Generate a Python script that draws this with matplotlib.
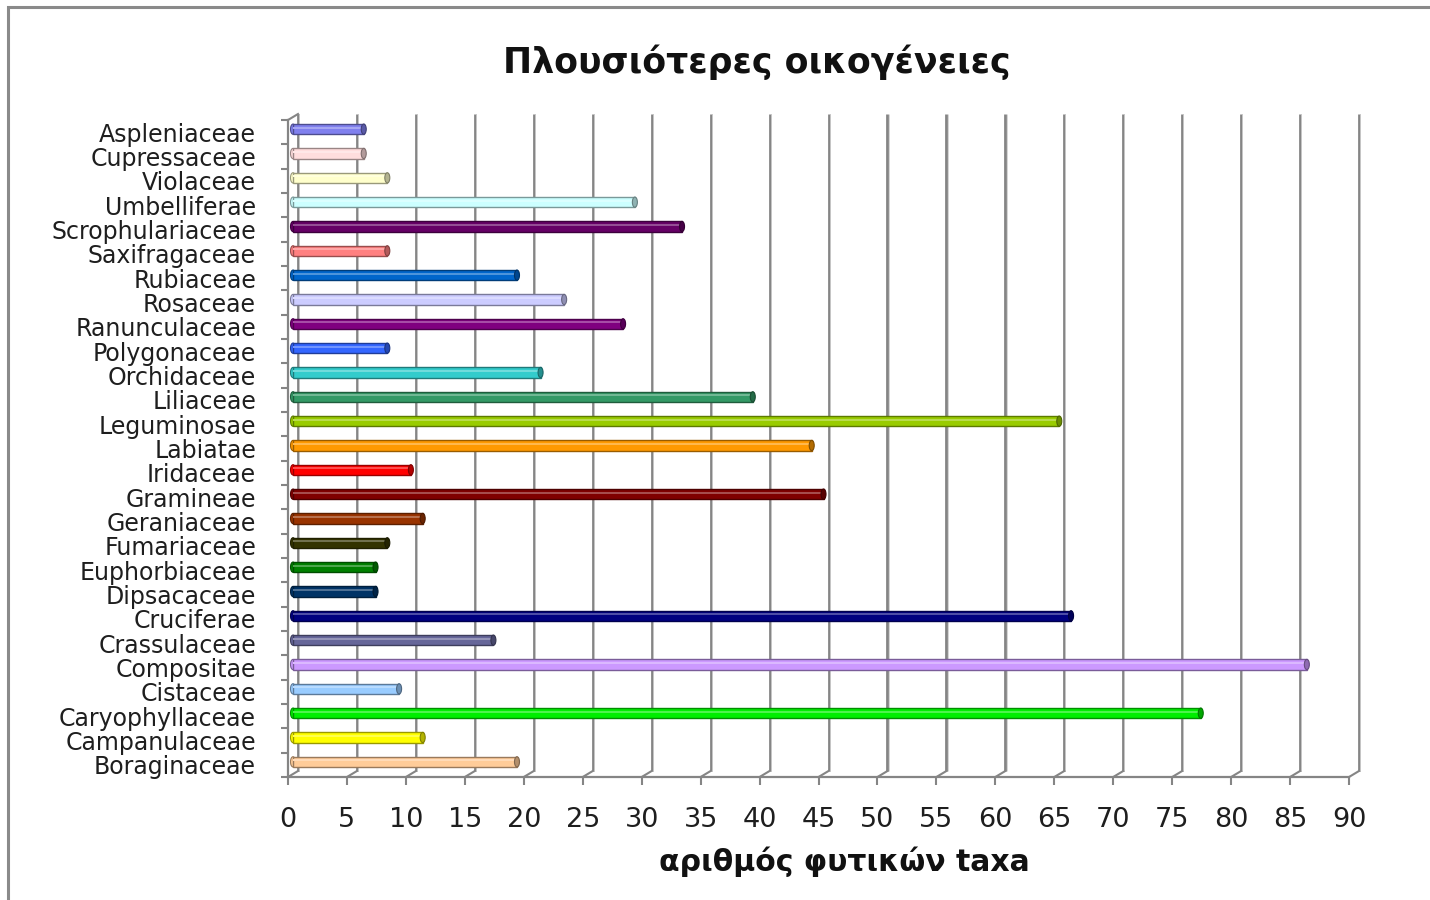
import numpy as np
import matplotlib
matplotlib.use("Agg")
import matplotlib.pyplot as plt
import matplotlib.colors as mcolors
from matplotlib.patches import Ellipse, Rectangle

# families, bottom to top
families = ["Boraginaceae", "Campanulaceae", "Caryophyllaceae", "Cistaceae",
            "Compositae", "Crassulaceae", "Cruciferae", "Dipsacaceae",
            "Euphorbiaceae", "Fumariaceae", "Geraniaceae", "Gramineae",
            "Iridaceae", "Labiatae", "Leguminosae", "Liliaceae", "Orchidaceae",
            "Polygonaceae", "Ranunculaceae", "Rosaceae", "Rubiaceae",
            "Saxifragaceae", "Scrophulariaceae", "Umbelliferae", "Violaceae",
            "Cupressaceae", "Aspleniaceae"]
taxa = [19, 11, 77, 9, 86, 17, 66, 7, 7, 8, 11, 45, 10, 44, 65, 39, 21, 8,
        28, 23, 19, 8, 33, 29, 8, 6, 6]
bar_colors = ["#ffcc99", "#ffff00", "#00ee00", "#99ccff", "#cc99ff", "#666699",
              "#000080", "#003366", "#008000", "#333300", "#993300", "#800000",
              "#ff0000", "#ff9900", "#99cc00", "#339966", "#33cccc", "#3366ff",
              "#800080", "#ccccff", "#0066cc", "#ff8080", "#660066", "#ccffff",
              "#ffffcc", "#ffdddd", "#8080ee"]
x_ticks = list(range(0, 95, 5))

W, H = 1430, 900
fig = plt.figure(figsize=(W / 100, H / 100), dpi=100)
fig.patch.set_facecolor("white")

# front plane of the chart box, in pixels
left_px, right_px, bottom_px, top_px = 288, 1349, 777, 120
ax = fig.add_axes([left_px / W, 1 - bottom_px / H,
                   (right_px - left_px) / W, (bottom_px - top_px) / H])
ax.set_xlim(0, 90)
ax.set_ylim(-0.5, len(families) - 0.5)

# depth of the 3D box (pixels -> data units)
px_x = (right_px - left_px) / 90.0
px_y = (bottom_px - top_px) / len(families)
dxu = 10 / px_x
dyu = 6 / px_y
y0, y1 = -0.5, len(families) - 0.5

grid_c = "#858585"
# back wall gridlines
ax.vlines(np.array(x_ticks) + dxu, y0 + dyu, y1 + dyu, colors=grid_c,
          linewidth=2.0, clip_on=False, zorder=1)
ax.vlines(np.array(x_ticks) + dxu + 0.1, y0 + dyu, y1 + dyu, colors="#cfcfcf",
          linewidth=0.6, clip_on=False, zorder=1)
# floor depth lines
for xt in x_ticks:
    ax.plot([xt, xt + dxu], [y0, y0 + dyu], color=grid_c, lw=1.5,
            clip_on=False, zorder=1)
ax.plot([0, dxu], [y1, y1 + dyu], color=grid_c, lw=1.5, clip_on=False, zorder=1)


def shade(c, f):
    r, g, b = mcolors.to_rgb(c)
    if f < 1:
        return (r * f, g * f, b * f)
    k = f - 1
    return (r + (1 - r) * k, g + (1 - g) * k, b + (1 - b) * k)


ypos = np.arange(len(families))
h = 0.42
yb = ypos + dyu / 2
ax.barh(yb, taxa, left=dxu / 2, height=h, color=bar_colors,
        edgecolor=[shade(c, 0.6) for c in bar_colors], linewidth=1.0, zorder=3)
# highlight along the upper side of each cylinder
ax.barh(yb + h * 0.15, taxa, left=dxu / 2, height=h * 0.2,
        color=[shade(c, 1.3) for c in bar_colors], linewidth=0, zorder=4)
# end caps
cap_w = 5 / px_x
for y, v, c in zip(yb, taxa, bar_colors):
    ax.add_patch(Ellipse((dxu / 2 + v, y), cap_w, h, facecolor=shade(c, 0.7),
                         edgecolor=shade(c, 0.5), linewidth=0.8, zorder=5))
    ax.add_patch(Ellipse((dxu / 2, y), cap_w, h, facecolor=c,
                         edgecolor=shade(c, 0.6), linewidth=0.8, zorder=2))

# axes
for s in ["top", "right"]:
    ax.spines[s].set_visible(False)
for s in ["left", "bottom"]:
    ax.spines[s].set_color(grid_c)
    ax.spines[s].set_linewidth(1.6)
ax.set_facecolor("none")

ax.set_xticks(x_ticks)
ax.set_xticklabels([str(t) for t in x_ticks])
ax.tick_params(axis="x", direction="out", length=5.5, width=1.5, color=grid_c,
               pad=16, labelsize=19.5, labelcolor="#1e1e1e")

ax.set_yticks(ypos)
ax.set_yticklabels(families)
ax.set_yticks(np.arange(-0.5, len(families)), minor=True)
ax.tick_params(axis="y", which="major", length=0, pad=23, labelsize=17,
               labelcolor="#1e1e1e")
ax.tick_params(axis="y", which="minor", direction="out", length=5, width=1.5,
               color=grid_c)

fig.text(757 / W, 1 - 62 / H, "Πλουσιότερες οικογένειες", ha="center",
         va="center", fontsize=25, fontweight="bold", color="#111111")
fig.text(844 / W, 1 - 862 / H, "αριθμός φυτικών taxa", ha="center",
         va="center", fontsize=21.5, fontweight="bold", color="#111111")

# outer chart frame
fig.add_artist(Rectangle((8 / W, -0.1), 1.2, 1.1 - 7 / H, transform=fig.transFigure,
                         fill=False, edgecolor="#8a8a8a", linewidth=2.2))

fig.savefig("out.png", dpi=100)
